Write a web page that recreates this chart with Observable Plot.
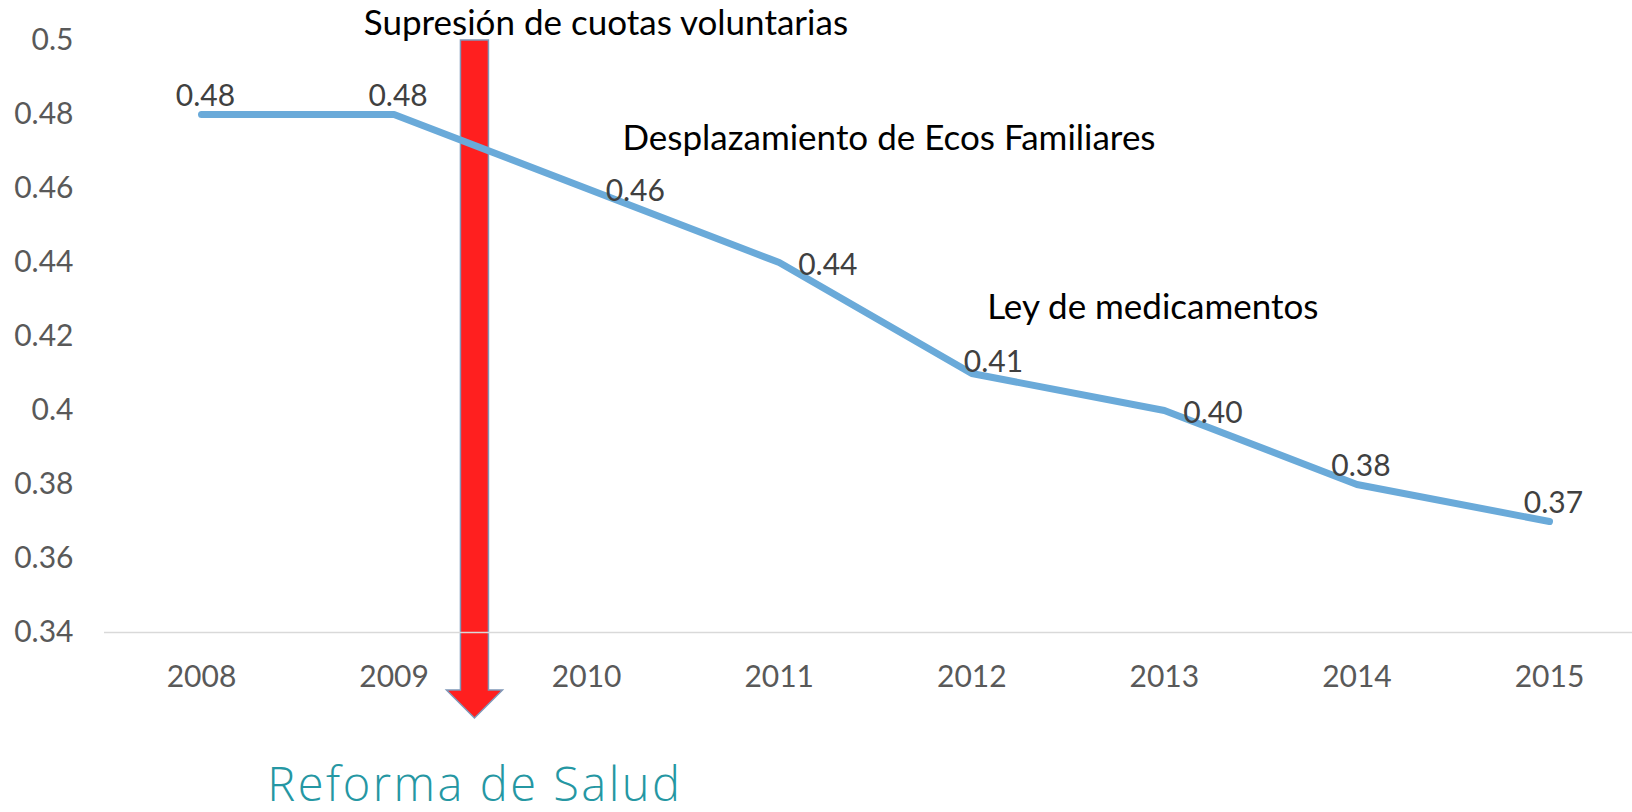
<!DOCTYPE html>
<html>
<head>
<meta charset="utf-8">
<script src="https://cdn.jsdelivr.net/npm/d3@7"></script>
<script src="https://cdn.jsdelivr.net/npm/@observablehq/plot@0.6"></script>
<style>
  html, body { margin: 0; padding: 0; background: #fff; }
  #chart svg { display: block; }
</style>
</head>
<body>
<div id="chart"></div>
<script>
// ---- data ----
const years = [2008, 2009, 2010, 2011, 2012, 2013, 2014, 2015];
const values = [0.48, 0.48, 0.46, 0.44, 0.41, 0.40, 0.38, 0.37];
const valueLabels = ["0.48", "0.48", "0.46", "0.44", "0.41", "0.40", "0.38", "0.37"];
const labelPlacement = ["above", "above", "right", "right", "above-right", "right", "above", "above"];
const xTickLabels = ["2008", "2009", "2010", "2011", "2012", "2013", "2014", "2015"];
const yTicks = [0.34, 0.36, 0.38, 0.40, 0.42, 0.44, 0.46, 0.48, 0.50];
const yTickLabels = ["0.34", "0.36", "0.38", "0.4", "0.42", "0.44", "0.46", "0.48", "0.5"];
const annotationTexts = ["Supresión de cuotas voluntarias", "Desplazamiento de Ecos Familiares", "Ley de medicamentos"];
const annotationX = [2010.10, 2011.57, 2012.94];
const annotationY = [0.5045, 0.4733, 0.4278];
const reformLabel = "Reforma de Salud";
const reformYear = 2009.42;
const reformLabelY = 0.2985;
const baseline = 0.34;
const arrowTop = 0.5;

const points = years.map((year, i) => ({year, value: values[i], label: valueLabels[i], place: labelPlacement[i]}));
const notes = annotationTexts.map((text, i) => ({text, x: annotationX[i], y: annotationY[i]}));

const FONT = "Lato, 'Liberation Sans', sans-serif";

// custom block arrow drawn through the scales
function reformArrow(index, scales) {
  const x = scales.x(reformYear);
  const yTop = scales.y(arrowTop);
  const yBase = scales.y(baseline);
  const shaft = 14, head = 28, headStart = yBase + 58, tip = yBase + 86;
  const d = [
    [x - shaft, yTop], [x + shaft, yTop], [x + shaft, headStart], [x + head, headStart],
    [x, tip], [x - head, headStart], [x - shaft, headStart]
  ].map((p, i) => (i ? "L" : "M") + p[0] + "," + p[1]).join("") + "Z";
  const g = d3.create("svg:path")
    .attr("d", d)
    .attr("fill", "#ff1f1f")
    .attr("stroke", "#7f98b8")
    .attr("stroke-width", 1.5)
    .attr("stroke-linejoin", "miter");
  return g.node();
}

const labelStyle = {fontSize: 30, fill: "#404040", fontFamily: FONT};

const chart = Plot.plot({
  width: 1632,
  height: 812,
  marginLeft: 104,
  marginRight: 0,
  marginTop: 40,
  marginBottom: 180,
  style: {fontFamily: FONT, background: "#fff"},
  x: {type: "linear", domain: [2008, 2015], insetLeft: 97, insetRight: 83},
  y: {type: "linear", domain: [0.34, 0.5]},
  marks: [
    reformArrow,
    Plot.ruleY([baseline], {stroke: "#d9d9d9", strokeWidth: 1.5}),
    Plot.axisY({ticks: yTicks, tickFormat: d => yTickLabels[yTicks.indexOf(d)], tickSize: 0, tickPadding: 31, fontSize: 30, color: "#595959", label: null}),
    Plot.axisX({ticks: years, tickFormat: d => xTickLabels[years.indexOf(d)], tickSize: 0, tickPadding: 33, fontSize: 30, color: "#595959", label: null}),
    Plot.line(points, {x: "year", y: "value", stroke: "#6aaad9", strokeWidth: 7, strokeLinecap: "round", strokeLinejoin: "round"}),
    Plot.text(points.filter(d => d.place === "above"), {x: "year", y: "value", text: "label", textAnchor: "middle", lineAnchor: "bottom", dx: 4, dy: -9, ...labelStyle}),
    Plot.text(points.filter(d => d.place === "right"), {x: "year", y: "value", text: "label", textAnchor: "start", lineAnchor: "middle", dx: 19, dy: 3, ...labelStyle}),
    Plot.text(points.filter(d => d.place === "above-right"), {x: "year", y: "value", text: "label", textAnchor: "start", lineAnchor: "bottom", dx: -8, dy: -2, ...labelStyle}),
    Plot.text(notes, {x: "x", y: "y", text: "text", textAnchor: "middle", lineAnchor: "middle", fontSize: 35, fill: "#000", fontFamily: FONT}),
    Plot.text([reformLabel], {x: () => reformYear, y: () => reformLabelY, text: d => d, textAnchor: "middle", lineAnchor: "middle", fontSize: 47, fontWeight: 300, fill: "#2597a3", fontFamily: "'Open Sans', 'DejaVu Sans', sans-serif", style: "letter-spacing: 2.5px"})
  ]
});

// apply letter spacing to the reform label text
chart.querySelectorAll("text").forEach(t => {
  if (t.textContent === reformLabel) t.setAttribute("letter-spacing", "2.5px");
});

document.getElementById("chart").appendChild(chart);
</script>
</body>
</html>
